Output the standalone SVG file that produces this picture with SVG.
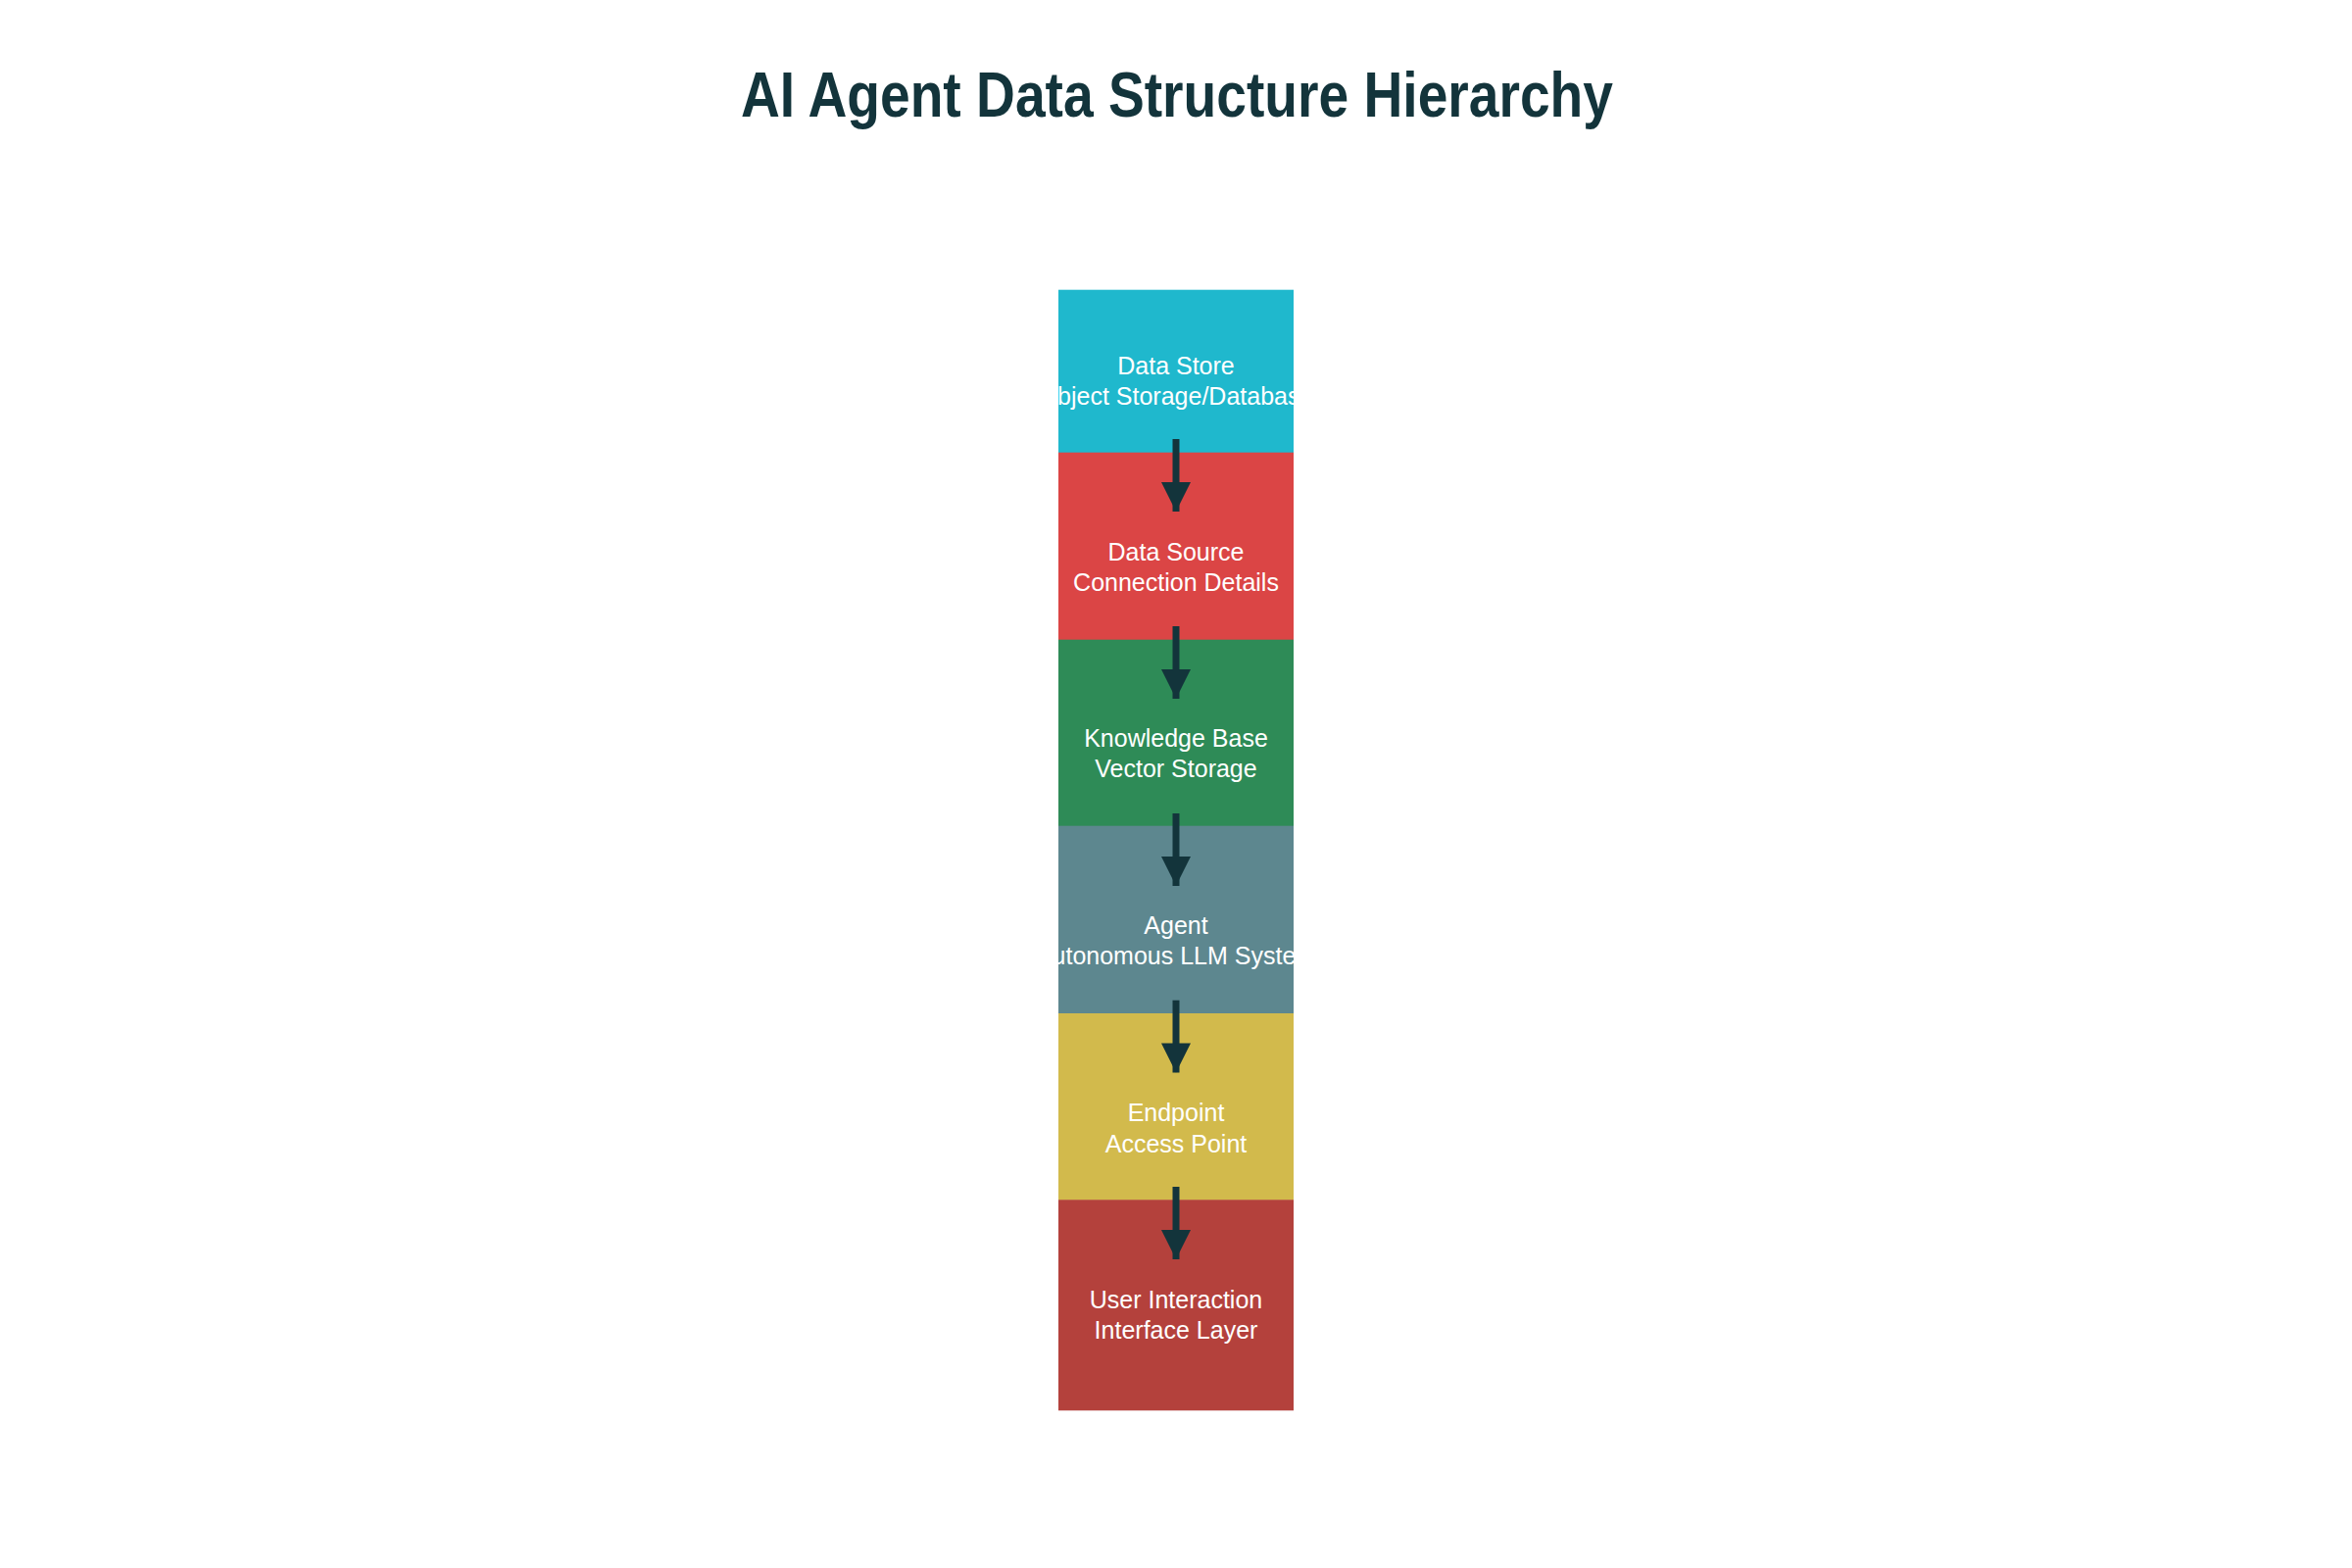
<svg xmlns="http://www.w3.org/2000/svg" width="2400" height="1600" viewBox="0 0 2400 1600">
<style>
.title{font-family:"Liberation Sans",Arial,sans-serif;font-weight:bold;font-size:64px;fill:#13343B;text-anchor:middle}
.lbl{font-family:"Liberation Sans",Arial,sans-serif;font-size:25px;fill:#FFFFFF;text-anchor:middle}
.conn{stroke:#13343B;stroke-width:7;fill:none}
</style>
<defs>
<clipPath id="col"><rect x="1080" y="290" width="240" height="1160"/></clipPath>
<marker id="ah" viewBox="0 0 10 10" refX="10" refY="5" markerWidth="4.3" markerHeight="4.3" markerUnits="strokeWidth" orient="auto"><path d="M0,0 L10,5 L0,10 z" fill="#13343B"/></marker>
</defs>
<rect width="2400" height="1600" fill="#FFFFFF"/>
<text class="title" x="1201" y="119" textLength="890" lengthAdjust="spacingAndGlyphs">AI Agent Data Structure Hierarchy</text>
<g clip-path="url(#col)">
<g id="data-store"><rect x="1080" y="295.7" width="240" height="166.5" fill="#1FB8CD"/><text class="lbl" x="1200" y="381.7">Data Store</text><text class="lbl" x="1200" y="412.7">Object Storage/Database</text></g>
<g id="data-source"><rect x="1080" y="461.7" width="240" height="191.5" fill="#DB4545"/><text class="lbl" x="1200" y="571.7">Data Source</text><text class="lbl" x="1200" y="602.7">Connection Details</text></g>
<g id="knowledge-base"><rect x="1080" y="652.7" width="240" height="190.5" fill="#2E8B57"/><text class="lbl" x="1200" y="762">Knowledge Base</text><text class="lbl" x="1200" y="793">Vector Storage</text></g>
<g id="agent"><rect x="1080" y="842.7" width="240" height="191.8" fill="#5D878F"/><text class="lbl" x="1200" y="953">Agent</text><text class="lbl" x="1200" y="984">Autonomous LLM System</text></g>
<g id="endpoint"><rect x="1080" y="1034" width="240" height="190.8" fill="#D2BA4C"/><text class="lbl" x="1200" y="1144">Endpoint</text><text class="lbl" x="1200" y="1175.5">Access Point</text></g>
<g id="user-interaction"><rect x="1080" y="1224.3" width="240" height="215" fill="#B4413C"/><text class="lbl" x="1200" y="1334.5">User Interaction</text><text class="lbl" x="1200" y="1366">Interface Layer</text></g>
</g>
<g id="connectors">
<line class="conn" x1="1200" y1="448" x2="1200" y2="522" marker-end="url(#ah)"/>
<line class="conn" x1="1200" y1="639" x2="1200" y2="713" marker-end="url(#ah)"/>
<line class="conn" x1="1200" y1="830" x2="1200" y2="904" marker-end="url(#ah)"/>
<line class="conn" x1="1200" y1="1020.7" x2="1200" y2="1094.5" marker-end="url(#ah)"/>
<line class="conn" x1="1200" y1="1211" x2="1200" y2="1285" marker-end="url(#ah)"/>
</g>
</svg>
